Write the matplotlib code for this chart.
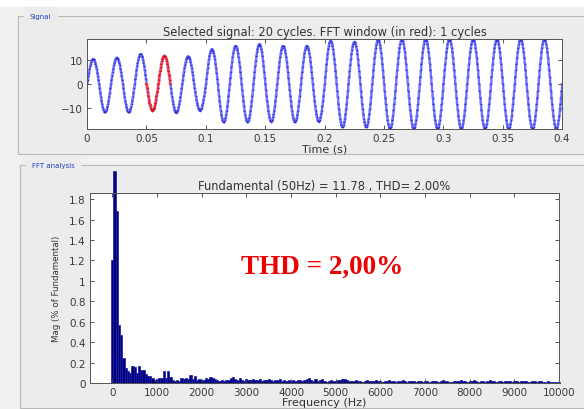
import numpy as np
import matplotlib
matplotlib.use("Agg")
import matplotlib.pyplot as plt
from matplotlib.patches import Rectangle

# ---------------- data ----------------
# Signal: 20 cycles of 50 Hz, per-cycle positive peak and negative trough
cycle_peaks = [10.4, 11.0, 12.5, 11.8, 11.5, 14.5, 15.9, 16.6, 15.9, 15.9,
               18.0, 17.6, 18.4, 18.7, 18.7, 18.7, 18.7, 18.7, 18.7, 18.7]
cycle_troughs = [-11.8, -11.8, -11.1, -12.0, -11.1, -15.9, -15.9, -15.7, -15.9, -15.7,
                 -18.0, -18.0, -18.7, -18.7, -18.7, -18.7, -18.7, -18.7, -18.7, -18.7]
f0 = 50.0
fft_window = (0.05, 0.07)

# FFT magnitudes (% of fundamental), 50 Hz bins from 0 to 10000 Hz
fft_mag = [
    1.20, 2.08, 1.68, 0.57, 0.47, 0.24, 0.15, 0.12, 0.10, 0.17, 0.16, 0.10, 0.17, 0.13, 0.13, 0.09, 0.07, 0.07, 0.05, 0.03,
    0.04, 0.05, 0.05, 0.12, 0.05, 0.12, 0.06, 0.03, 0.02, 0.03, 0.02, 0.05, 0.04, 0.05, 0.04, 0.08, 0.04, 0.07, 0.03, 0.04,
    0.03, 0.03, 0.05, 0.04, 0.06, 0.05, 0.04, 0.03, 0.02, 0.03, 0.02, 0.03, 0.03, 0.05, 0.06, 0.04, 0.03, 0.05, 0.03, 0.02,
    0.04, 0.03, 0.03, 0.04, 0.03, 0.03, 0.04, 0.02, 0.03, 0.03, 0.04, 0.03, 0.02, 0.03, 0.03, 0.04, 0.02, 0.03, 0.02, 0.03,
    0.02, 0.03, 0.02, 0.03, 0.03, 0.02, 0.03, 0.04, 0.05, 0.03, 0.02, 0.04, 0.02, 0.03, 0.04, 0.02, 0.01, 0.02, 0.03, 0.02,
    0.02, 0.03, 0.03, 0.04, 0.04, 0.03, 0.02, 0.02, 0.02, 0.03, 0.02, 0.02, 0.01, 0.02, 0.03, 0.02, 0.02, 0.02, 0.03, 0.02,
    0.02, 0.01, 0.02, 0.02, 0.03, 0.02, 0.02, 0.01, 0.02, 0.02, 0.03, 0.02, 0.01, 0.02, 0.02, 0.02, 0.01, 0.02, 0.02, 0.01,
    0.02, 0.02, 0.01, 0.02, 0.02, 0.02, 0.01, 0.02, 0.03, 0.02, 0.02, 0.01, 0.01, 0.02, 0.02, 0.02, 0.03, 0.02, 0.02, 0.01,
    0.02, 0.02, 0.03, 0.02, 0.01, 0.02, 0.02, 0.01, 0.02, 0.03, 0.02, 0.02, 0.01, 0.02, 0.02, 0.01, 0.02, 0.02, 0.02, 0.01,
    0.02, 0.02, 0.01, 0.02, 0.02, 0.02, 0.01, 0.01, 0.02, 0.02, 0.01, 0.02, 0.02, 0.01, 0.01, 0.02, 0.01, 0.01, 0.01, 0.01,
    0.01,
]
fft_bin = 50.0

top_title = "Selected signal: 20 cycles. FFT window (in red): 1 cycles"
bot_title = "Fundamental (50Hz) = 11.78 , THD= 2.00%"
thd_text = "THD = 2,00%"

# ---------------- figure ----------------
W, H = 584, 410
fig = plt.figure(figsize=(W / 100, H / 100), dpi=100, facecolor="#f0f0f0")

def fx(px):
    return px / W

def fy(py):
    return 1 - py / H

# white band at top
fig.patches.append(Rectangle((0, fy(8)), 1, 8 / H, transform=fig.transFigure,
                             facecolor="white", edgecolor="none", zorder=-2))
# panels
for (x0, y0, x1, y1, lab) in [(18, 17, 590, 155, "Signal"), (20, 166, 590, 409, "FFT analysis")]:
    fig.patches.append(Rectangle((fx(x0), fy(y1)), fx(x1 - x0), (y1 - y0) / H,
                                 transform=fig.transFigure, facecolor="#ececec",
                                 edgecolor="#b8b8b8", linewidth=0.8, zorder=-1))
    fig.text(fx(x0 + 12), fy(y0), lab, fontsize=5, color="#1f3fbf",
             ha="left", va="center", backgroundcolor="#ececec")

tick_color = "#3a3a3a"
tick_fs = 7.5
title_fs = 8.3
xlab_fs = 8

# ---------------- signal axes ----------------
ax1 = fig.add_axes([fx(87), fy(130), fx(562 - 87), (130 - 40) / H])
ts = 1 / 2000.0
t = np.arange(0, 0.4 + ts / 2, ts)
cyc = np.minimum((t * f0).astype(int), len(cycle_peaks) - 1)
base = np.sin(2 * np.pi * f0 * t)
amp = np.where(base >= 0, np.array(cycle_peaks)[cyc], -np.array(cycle_troughs)[cyc])
y = base * amp
ax1.plot(t, y, color="#5a5aff", lw=1.7, alpha=0.85, drawstyle="steps-post",
         marker=".", markersize=2.4, markeredgewidth=0, markerfacecolor="#2a2ac8")
m = (t >= fft_window[0]) & (t <= fft_window[1])
ax1.plot(t[m], y[m], color="#ff4040", lw=1.7, alpha=0.9, drawstyle="steps-post",
         marker=".", markersize=2.4, markeredgewidth=0, markerfacecolor="#d01010")
ax1.set_xlim(0, 0.4)
ax1.set_ylim(-18.8, 18.8)
ax1.set_xticks(np.arange(0, 0.401, 0.05))
ax1.set_xticklabels(["0", "0.05", "0.1", "0.15", "0.2", "0.25", "0.3", "0.35", "0.4"])
ax1.set_yticks([-10, 0, 10])
ax1.set_title(top_title, fontsize=title_fs, color="#333333", pad=3)
ax1.set_xlabel("Time (s)", fontsize=xlab_fs, color="#333333", labelpad=0)

# ---------------- FFT axes ----------------
ax2 = fig.add_axes([fx(90), fy(384), fx(559 - 90), (384 - 194) / H])
freqs = np.arange(len(fft_mag)) * fft_bin
bars = ax2.bar(freqs, fft_mag, width=fft_bin, color="#00007a", edgecolor="#1a1aa8",
               linewidth=0.5)
for b in bars:
    b.set_clip_on(False)
ax2.set_xlim(-500, 10000)
ax2.set_ylim(0, 1.86)
ax2.set_xticks(np.arange(0, 10001, 1000))
ax2.set_yticks(np.round(np.arange(0, 1.81, 0.2), 1))
ax2.set_yticklabels(["0", "0.2", "0.4", "0.6", "0.8", "1", "1.2", "1.4", "1.6", "1.8"])
ax2.set_title(bot_title, fontsize=title_fs, color="#333333", pad=3)
ax2.set_xlabel("Frequency (Hz)", fontsize=xlab_fs, color="#333333", labelpad=0)
ax2.set_ylabel("Mag (% of Fundamental)", fontsize=6.2, color="#333333", labelpad=6)
ax2.text(4690, 1.14, thd_text, color="#ee0000", fontsize=19.5, fontweight="bold",
         family="Liberation Serif", ha="center", va="center")

for ax in (ax1, ax2):
    ax.set_facecolor("white")
    ax.tick_params(direction="in", length=3, width=0.6, labelsize=tick_fs,
                   colors=tick_color, top=True, right=True, pad=3)
    for s in ax.spines.values():
        s.set_color("#555555")
        s.set_linewidth(0.7)

fig.savefig("out.png", dpi=100, facecolor=fig.get_facecolor())
